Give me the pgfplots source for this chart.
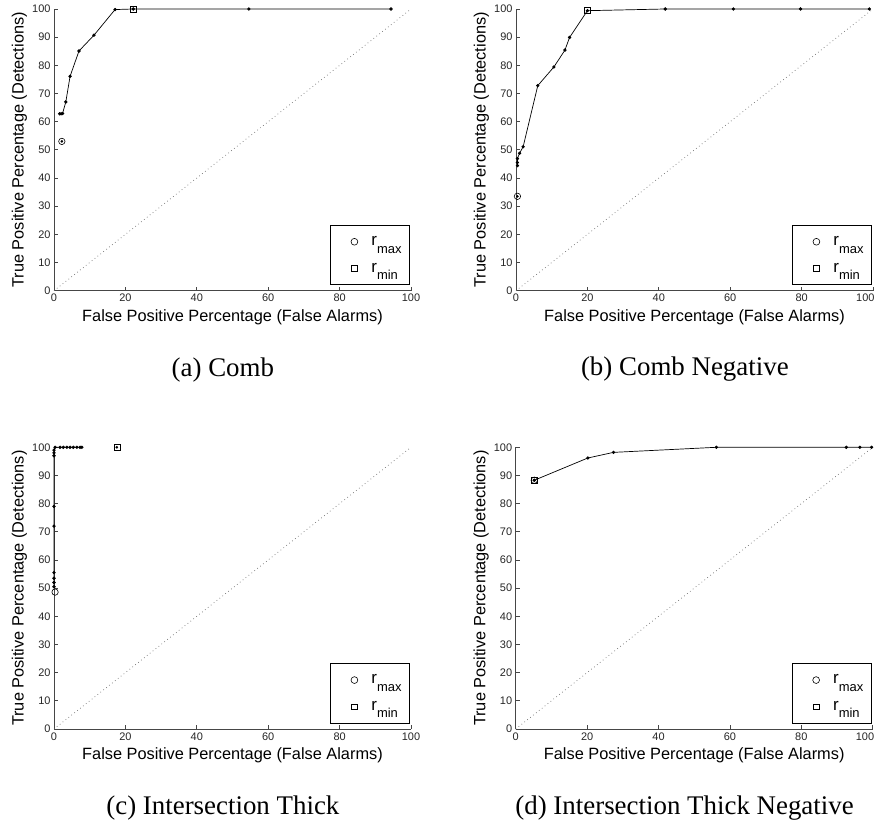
\documentclass[border=0pt]{standalone}
\usepackage{fontspec}
\setmainfont{Liberation Serif}
\setsansfont{Liberation Sans}
\usepackage{pgfplots}
\pgfplotsset{compat=1.18}
\definecolor{axgray}{RGB}{70,70,70}
\definecolor{diaggray}{RGB}{110,110,110}

\newcommand{\rsub}[1]{{\fontsize{17}{17}\selectfont r}\raisebox{-7.5bp}{\fontsize{13}{13}\selectfont #1}}
\tikzset{capt/.style={font=\fontsize{27}{30}\selectfont}}

\pgfplotsset{
  rocax/.style={
    scale only axis, width=357bp, height=281.7bp,
    xmin=0, xmax=100, ymin=0, ymax=100,
    axis x line=bottom, axis y line=left,
    axis line style={-, draw=axgray, line width=1bp},
    xtick={0,20,...,100}, ytick={0,10,...,100},
    tick align=inside, major tick length=4bp,
    major tick style={draw=axgray, line width=0.8bp},
    ticklabel style={font=\sffamily\fontsize{11}{12}\selectfont, text=black!85},
    /pgf/number format/assume math mode=true,
    xlabel={False Positive Percentage (False Alarms)},
    ylabel={True Positive Percentage (Detections)},
    label style={font=\sffamily\fontsize{16.4}{18}\selectfont},
    xlabel style={at={(axis description cs:0.5,-0.094)}, anchor=center},
    ylabel style={at={(axis description cs:-0.097,0.5)}, anchor=center},
    clip=false,
    legend style={at={(0.997,0.02)}, anchor=south east, draw=black, line width=0.8bp,
      fill=white, inner xsep=6bp, inner ysep=9bp, row sep=12bp,
      font=\sffamily, cells={anchor=west},
      /tikz/every odd column/.append style={column sep=3bp}},
    legend image code/.code={%
      \path[draw=none] (0bp,0bp) -- (30bp,0bp);
      \draw[#1] plot coordinates {(18bp,0bp)};},
    legend cell align=left,
  },
  rightax/.style={
    xtick={0,20,...,80}, extra x ticks={100},
    extra x tick style={xticklabel style={anchor=north east, xshift=5bp}},
  },
  datal/.style={black, line width=0.7bp, mark=*, mark size=1.3bp, mark options={solid}},
  rmax/.style={black, only marks, mark=o, mark size=3.2bp, mark options={line width=0.6bp}},
  rmin/.style={black, only marks, mark=square, mark size=3bp, mark options={line width=0.6bp}},
  dotm/.style={black, only marks, mark=*, mark size=1.1bp},
  diag/.style={diaggray, line width=0.7bp, dash pattern=on 0.7bp off 3bp},
}

\newcommand{\legendsetup}{%
  \addlegendimage{black, only marks, mark=o, mark size=3.4bp, mark options={line width=0.6bp}}
  \addlegendentry{\rsub{max}}
  \addlegendimage{black, only marks, mark=square, mark size=2.7bp, mark options={line width=0.6bp}}
  \addlegendentry{\rsub{min}}
}

\begin{document}
\begin{tikzpicture}
\useasboundingbox (0,0) rectangle (880bp,827bp);
\clip (0,0) rectangle (880bp,827bp);

% (a) Comb
\begin{axis}[rocax, at={(54bp,536.3bp)}, anchor=south west]
\legendsetup
\addplot[diag, forget plot] coordinates {(0,0) (100,100)};
\addplot[datal, forget plot] coordinates {(1.6,62.8)(2.0,62.8)(2.4,62.9)(3.3,67.0)(4.5,76.1)(7.0,85.1)(11.2,90.7)(17.1,99.8)(22.2,100)(54.6,100)(94.4,100)};
\addplot[rmax, forget plot] coordinates {(2.2,53.0)};
\addplot[dotm, forget plot] coordinates {(2.2,53.0)};
\addplot[rmin, forget plot] coordinates {(22.2,100)};
\node[capt] at (rel axis cs:0.473,-0.28) {(a) Comb};
\end{axis}

% (b) Comb Negative
\begin{axis}[rocax, rightax, at={(516bp,536.3bp)}, anchor=south west]
\legendsetup
\addplot[diag, forget plot] coordinates {(0,0) (100,100)};
\addplot[datal, forget plot] coordinates {(0.4,44.4)(0.4,45.5)(0.4,46.9)(1.0,48.8)(2.0,51.1)(6.1,72.8)(10.6,79.4)(13.7,85.4)(15.0,89.9)(20.0,99.4)(41.8,100)(60.9,100)(79.7,100)(99.0,100)};
\addplot[rmax, forget plot] coordinates {(0.4,33.5)};
\addplot[dotm, forget plot] coordinates {(0.4,33.5)};
\addplot[rmin, forget plot] coordinates {(20.0,99.4)};
\node[capt] at (rel axis cs:0.473,-0.28) {(b) Comb Negative};
\end{axis}

% (c) Intersection Thick
\begin{axis}[rocax, at={(54bp,98bp)}, anchor=south west]
\legendsetup
\addplot[diag, forget plot] coordinates {(0,0) (100,100)};
\addplot[datal, forget plot] coordinates {(0,50.5)(0,52)(0,53.5)(0,55.5)(0,72)(0,79)(0,97)(0,98)(0,99)(0.3,100)(1.7,100)(2.6,100)(3.6,100)(4.5,100)(5.4,100)(6.4,100)(7.3,100)(7.8,100)};
\addplot[rmax, forget plot] coordinates {(0.3,48.6)};
\addplot[rmin, forget plot] coordinates {(17.6,100)};
\addplot[dotm, forget plot] coordinates {(17.6,100)};
\node[capt] at (rel axis cs:0.473,-0.28) {(c) Intersection Thick};
\end{axis}

% (d) Intersection Thick Negative
\begin{axis}[rocax, rightax, at={(515.7bp,98bp)}, anchor=south west]
\legendsetup
\addplot[diag, forget plot] coordinates {(0,0) (100,100)};
\addplot[datal, forget plot] coordinates {(5.2,88.3)(20.2,96.2)(27.4,98.2)(56.2,100)(92.6,100)(96.4,100)(99.7,100)};
\addplot[rmax, forget plot] coordinates {(5.2,88.3)};
\addplot[rmin, forget plot] coordinates {(5.2,88.3)};
\node[capt] at (rel axis cs:0.473,-0.28) {(d) Intersection Thick Negative};
\end{axis}
\end{tikzpicture}
\end{document}
